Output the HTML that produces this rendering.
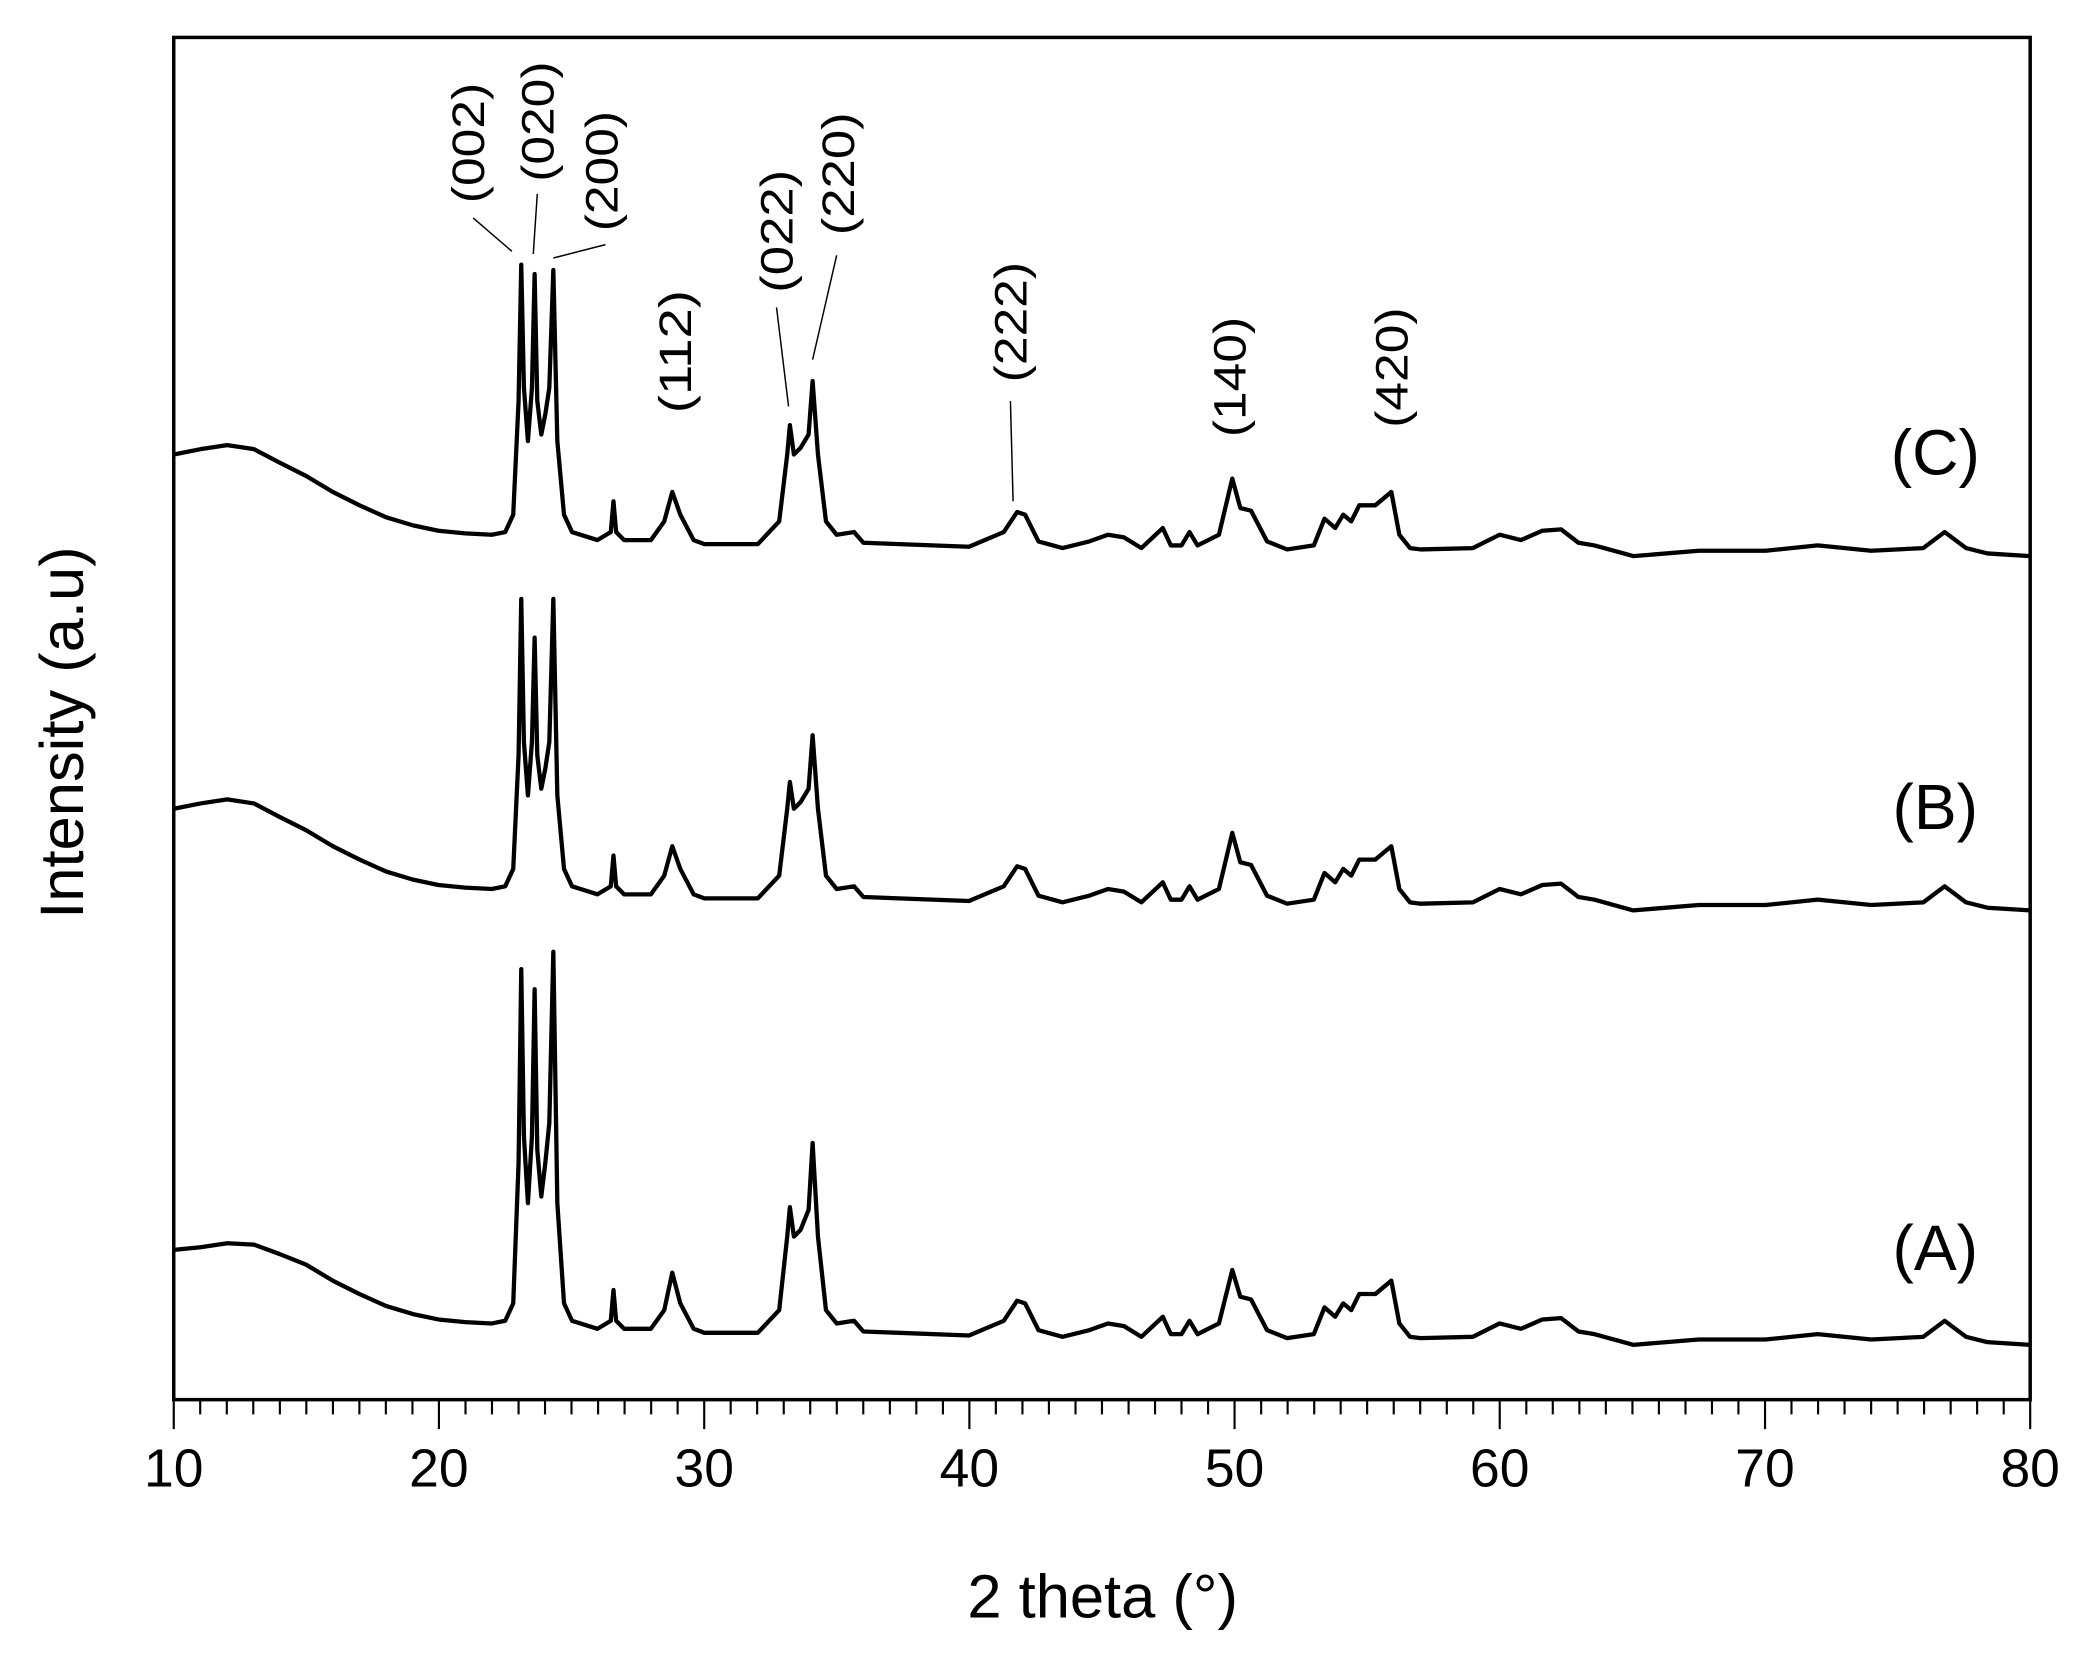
<!DOCTYPE html>
<html><head><meta charset="utf-8"><style>
html,body{margin:0;padding:0;background:#fff;}
svg{display:block;}
text{font-family:"Liberation Sans",Arial,sans-serif;fill:#000;}
</style></head><body>
<svg width="2089" height="1659" viewBox="0 0 1563 1241" preserveAspectRatio="none" xmlns="http://www.w3.org/2000/svg">
<rect x="0" y="0" width="1563" height="1241" fill="#fff"/>
<g fill="none" stroke="#000" stroke-width="3.2" stroke-linejoin="round">
<polyline points="130,340 150,336 170,333 190,336 209,346 229,356 249,368 269,378 289,387 309,393 328,397 348,399 368,400 378,398 384,385 388,300 390,198 392,290 395,330 398,290 400,205 402,300 405,325 408,310 411,290 414,202 417,330 422,385 428,398 447,404 457,398 459,375 461,398 467,404 487,404 497,390 503,368 509,385 519,404 527,407 567,407 583,390 589,340 591,318 594,340 599,335 605,325 608,285 612,340 618,390 626,400 639,398 646,406 725,409 751,398 761,383 767,385 777,405 795,410 815,405 829,400 841,402 854,410 870,395 876,408 884,408 890,398 896,408 912,400 922,358 928,380 936,382 948,405 963,411 983,408 991,388 999,395 1005,385 1011,390 1017,378 1029,378 1041,368 1047,400 1055,410 1063,411 1102,410 1122,400 1138,404 1154,397 1168,396 1181,406 1193,408 1222,416 1271,412 1321,412 1360,408 1400,412 1439,410 1455,398 1471,410 1487,414 1519,416"/>
<polyline points="130,605 150,601 170,598 190,601 209,611 229,621 249,633 269,643 289,652 309,658 328,662 348,664 368,665 378,663 384,650 388,565 390,448 392,555 395,595 398,555 400,477 402,565 405,590 408,575 411,555 414,448 417,595 422,650 428,663 447,669 457,663 459,640 461,663 467,669 487,669 497,655 503,633 509,650 519,669 527,672 567,672 583,655 589,605 591,585 594,605 599,600 605,590 608,550 612,605 618,655 626,665 639,663 646,671 725,674 751,663 761,648 767,650 777,670 795,675 815,670 829,665 841,667 854,675 870,660 876,673 884,673 890,663 896,673 912,665 922,623 928,645 936,647 948,670 963,676 983,673 991,653 999,660 1005,650 1011,655 1017,643 1029,643 1041,633 1047,665 1055,675 1063,676 1102,675 1122,665 1138,669 1154,662 1168,661 1181,671 1193,673 1222,681 1271,677 1321,677 1360,673 1400,677 1439,675 1455,663 1471,675 1487,679 1519,681"/>
<polyline points="130,935 150,933 170,930 190,931 209,938 229,946 249,958 269,968 289,977 309,983 328,987 348,989 368,990 378,988 384,975 388,870 390,725 392,850 395,900 398,850 400,740 402,860 405,895 408,870 411,840 414,712 417,900 422,975 428,988 447,994 457,988 459,965 461,988 467,994 487,994 497,980 503,952 509,975 519,994 527,997 567,997 583,980 589,925 591,903 594,925 599,920 605,905 608,855 612,925 618,980 626,990 639,988 646,996 725,999 751,988 761,973 767,975 777,995 795,1000 815,995 829,990 841,992 854,1000 870,985 876,998 884,998 890,988 896,998 912,990 922,950 928,970 936,972 948,995 963,1001 983,998 991,978 999,985 1005,975 1011,980 1017,968 1029,968 1041,958 1047,990 1055,1000 1063,1001 1102,1000 1122,990 1138,994 1154,987 1168,986 1181,996 1193,998 1222,1006 1271,1002 1321,1002 1360,998 1400,1002 1439,1000 1455,988 1471,1000 1487,1004 1519,1006"/>
</g>
<rect x="130" y="28" width="1389" height="1019" fill="none" stroke="#000" stroke-width="2.6"/>
<g stroke="#000" stroke-width="1.6">
<path d="M130,1047v22M149.8,1047v11M169.7,1047v11M189.5,1047v11M209.4,1047v11M229.2,1047v11M249.1,1047v11M268.9,1047v11M288.7,1047v11M308.6,1047v11M328.4,1047v22M348.3,1047v11M368.1,1047v11M388,1047v11M407.8,1047v11M427.6,1047v11M447.5,1047v11M467.3,1047v11M487.2,1047v11M507,1047v11M526.9,1047v22M546.7,1047v11M566.5,1047v11M586.4,1047v11M606.2,1047v11M626.1,1047v11M645.9,1047v11M665.8,1047v11M685.6,1047v11M705.5,1047v11M725.3,1047v22M745.1,1047v11M765,1047v11M784.8,1047v11M804.7,1047v11M824.5,1047v11M844.4,1047v11M864.2,1047v11M884,1047v11M903.9,1047v11M923.7,1047v22M943.6,1047v11M963.4,1047v11M983.3,1047v11M1003.1,1047v11M1022.9,1047v11M1042.8,1047v11M1062.6,1047v11M1082.5,1047v11M1102.3,1047v11M1122.1,1047v22M1142,1047v11M1161.8,1047v11M1181.7,1047v11M1201.5,1047v11M1221.4,1047v11M1241.2,1047v11M1261.1,1047v11M1280.9,1047v11M1300.7,1047v11M1320.6,1047v22M1340.4,1047v11M1360.3,1047v11M1380.1,1047v11M1400,1047v11M1419.8,1047v11M1439.6,1047v11M1459.5,1047v11M1479.3,1047v11M1499.2,1047v11M1519,1047v22"/>
</g>
<g font-size="40" text-anchor="middle">
<text x="130" y="1112">10</text><text x="328.4" y="1112">20</text><text x="526.9" y="1112">30</text>
<text x="725.3" y="1112">40</text><text x="923.7" y="1112">50</text><text x="1122.1" y="1112">60</text>
<text x="1320.6" y="1112">70</text><text x="1519" y="1112">80</text>
</g>
<text x="825" y="1210" font-size="46" text-anchor="middle">2 theta (°)</text>
<text transform="translate(62,548) rotate(-90)" font-size="46" text-anchor="middle">Intensity (a.u)</text>
<g font-size="48" text-anchor="middle">
<text x="1448" y="355">(C)</text><text x="1448" y="620">(B)</text><text x="1448" y="950">(A)</text>
</g>
<g font-size="34">
<text transform="translate(362,152) rotate(-90)" textLength="90" lengthAdjust="spacingAndGlyphs">(002)</text>
<text transform="translate(414,136) rotate(-90)" textLength="90" lengthAdjust="spacingAndGlyphs">(020)</text>
<text transform="translate(462,173) rotate(-90)" textLength="90" lengthAdjust="spacingAndGlyphs">(200)</text>
<text transform="translate(517,309) rotate(-90)" textLength="92" lengthAdjust="spacingAndGlyphs">(112)</text>
<text transform="translate(593,219) rotate(-90)" textLength="92" lengthAdjust="spacingAndGlyphs">(022)</text>
<text transform="translate(639,176) rotate(-90)" textLength="92" lengthAdjust="spacingAndGlyphs">(220)</text>
<text transform="translate(768,286) rotate(-90)" textLength="90" lengthAdjust="spacingAndGlyphs">(222)</text>
<text transform="translate(932,327) rotate(-90)" textLength="90" lengthAdjust="spacingAndGlyphs">(140)</text>
<text transform="translate(1053,320) rotate(-90)" textLength="90" lengthAdjust="spacingAndGlyphs">(420)</text>
</g>
<g stroke="#000" stroke-width="1.1">
<line x1="354" y1="163" x2="383" y2="188"/>
<line x1="402" y1="145" x2="399" y2="190"/>
<line x1="453" y1="183" x2="414" y2="193"/>
<line x1="581" y1="230" x2="590" y2="304"/>
<line x1="626" y1="191" x2="608" y2="269"/>
<line x1="756" y1="300" x2="758" y2="375"/>
</g>
</svg>
</body></html>
